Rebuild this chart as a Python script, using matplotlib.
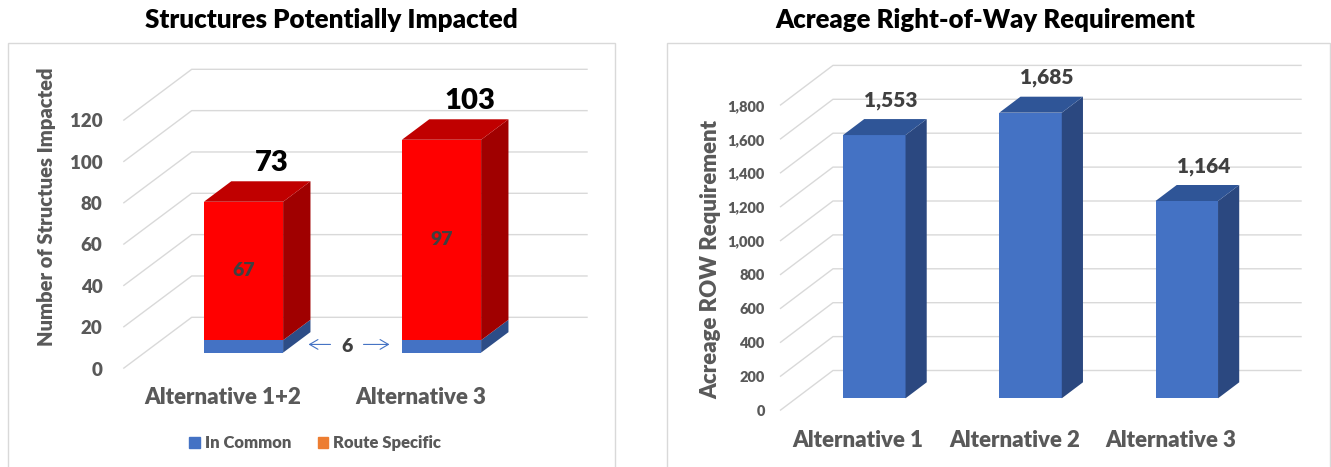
import matplotlib
matplotlib.use('Agg')
import matplotlib.pyplot as plt
from matplotlib.patches import Polygon, Rectangle, Patch
from matplotlib.text import OffsetFrom

WT = 'heavy'
plt.rcParams['font.family'] = ['Lato', 'DejaVu Sans']
plt.rcParams['font.weight'] = WT

W, H = 1331, 467
GRID = '#D9D9D9'
GRAY = '#595959'
DARK = '#404040'

# left chart data
struct_cats = ['Alternative 1+2', 'Alternative 3']
in_common = [6, 6]
route_specific = [67, 97]
struct_ticks = [0, 20, 40, 60, 80, 100, 120]

# right chart data
row_cats = ['Alternative 1', 'Alternative 2', 'Alternative 3']
row_acres = [1553, 1685, 1164]
row_ticks = [0, 200, 400, 600, 800, 1000, 1200, 1400, 1600, 1800]


def add_ax(fig, left, right, top, bottom):
    # positions given in pixels of the final image
    return fig.add_axes([left / W, 1 - bottom / H, (right - left) / W, (bottom - top) / H])


def floor_grid(ax, ticks, x0, x1, dx, dy):
    for v in ticks:
        ax.plot([x0, x0 + dx, x1 + dx], [v, v + dy, v + dy], color=GRID, lw=1,
                zorder=1, clip_on=False, solid_capstyle='butt')


def bar3d(ax, xs, bottoms, heights, width, d0, depth, dx, dy, front, top, side, draw_top=True):
    fx = [x + d0 * dx for x in xs]
    fb = [b + d0 * dy for b in bottoms]
    ax.bar(fx, heights, width, bottom=fb, color=front, zorder=3, lw=0)
    for x, b, h in zip(fx, fb, heights):
        r = x + width / 2
        t = b + h
        ax.add_patch(Polygon([(r, b), (r + depth * dx, b + depth * dy),
                              (r + depth * dx, t + depth * dy), (r, t)],
                             closed=True, fc=side, lw=0, zorder=3))
        if draw_top:
            ax.add_patch(Polygon([(x - width / 2, t), (r, t), (r + depth * dx, t + depth * dy),
                                  (x - width / 2 + depth * dx, t + depth * dy)],
                                 closed=True, fc=top, lw=0, zorder=3))


def style_axes(ax, xs, cats, ticks, xlim, ylim, cat_size, tick_size, tick_pad, cat_pad):
    ax.set_xlim(*xlim)
    ax.set_ylim(*ylim)
    for s in ax.spines.values():
        s.set_visible(False)
    ax.set_xticks(xs)
    ax.set_xticklabels(cats, fontsize=cat_size, color=GRAY, fontweight=WT)
    ax.set_yticks(ticks)
    ax.set_yticklabels([f'{t:,}' for t in ticks], fontsize=tick_size, color=GRAY, fontweight=WT)
    ax.tick_params(axis='both', length=0)
    ax.tick_params(axis='y', pad=tick_pad)
    ax.tick_params(axis='x', pad=cat_pad)
    ax.patch.set_alpha(0)


fig = plt.figure(figsize=(W / 100, H / 100), dpi=100)

# panel frames
fig.add_artist(Rectangle((8.3 / W, -0.02), (615 - 8.3) / W, (467 - 43) / H + 0.02,
                         transform=fig.transFigure, fill=False, ec=GRID, lw=1))
fig.add_artist(Rectangle((666.7 / W, -0.02), (1329.5 - 666.7) / W, (467 - 43) / H + 0.02,
                         transform=fig.transFigure, fill=False, ec=GRID, lw=1))

# ---------------- left: structures ----------------
axl = add_ax(fig, 123.3, 586, 68.8, 368.5)
xs = list(range(len(struct_cats)))
dxl, dyl = 0.3455, 24.77
d0l, depl, bw = 0.31, 0.4, 0.4
floor_grid(axl, struct_ticks, -0.5, 1.5, dxl, dyl)
bar3d(axl, xs, [0] * 2, in_common, bw, d0l, depl, dxl, dyl,
      '#4472C4', '#30559A', '#2D4D87', draw_top=False)
bar3d(axl, xs, in_common, route_specific, bw, d0l, depl, dxl, dyl,
      '#FF0000', '#C00000', '#A00000')
style_axes(axl, xs, struct_cats, struct_ticks, (-0.5, -0.5 + (586 - 123.3) / 198),
           (0, (368.5 - 68.8) / 2.0667), 16, 13.5, 15, 13)

for x, c, r in zip(xs, in_common, route_specific):
    tot = c + r
    axl.annotate(str(tot), xy=(x + (d0l + depl / 2) * dxl, tot + (d0l + depl / 2) * dyl),
                 xytext=(15, 29), textcoords='offset pixels', ha='center', va='center',
                 fontsize=21, fontweight=WT, color='black')
    axl.annotate(str(r), xy=(x + d0l * dxl, c + r / 2 + d0l * dyl), ha='center', va='center',
                 fontsize=14, fontweight=WT, color=DARK, zorder=5)

t6 = axl.annotate(str(in_common[0]), xy=(0.5 + d0l * dxl, in_common[0] / 2 + d0l * dyl),
                  xytext=(5, 0), textcoords='offset pixels', ha='center', va='center',
                  fontsize=14, fontweight=WT, color=DARK)
for tail, head in [(-17, -39), (16, 42)]:
    axl.annotate('', xy=(head, 2), xycoords=OffsetFrom(t6, (0.5, 0.5), 'pixels'),
                 xytext=(tail, 2), textcoords=OffsetFrom(t6, (0.5, 0.5), 'pixels'),
                 arrowprops=dict(arrowstyle='->,head_length=0.6,head_width=0.35',
                                 color='#4472C4', lw=0.8, shrinkA=0, shrinkB=0))

fig.text(47 / W, 1 - 207 / H, 'Number of Structues Impacted', rotation=90,
         ha='center', va='center', fontsize=14.5, fontweight=WT, color=GRAY)
fig.text(331 / W, 1 - 20 / H, 'Structures Potentially Impacted', ha='center', va='center',
         fontsize=18.7, fontweight=WT, color='black')
fig.legend(handles=[Patch(color='#4472C4', label='In Common'),
                    Patch(color='#ED7D31', label='Route Specific')],
           loc='center', bbox_to_anchor=(315 / W, 1 - 443 / H), ncol=2, frameon=False,
           prop={'size': 12, 'weight': WT}, labelcolor=GRAY,
           handlelength=0.65, handleheight=0.65, handletextpad=0.3, columnspacing=1.6)

# ---------------- right: acreage ----------------
axr = add_ax(fig, 780, 1301.7, 65, 410.5)
xr = list(range(len(row_cats)))
dxr, dyr = 0.339, 236
d0r = 0.305
floor_grid(axr, row_ticks, -0.5, 2.5, dxr, dyr)
bar3d(axr, xr, [0] * 3, row_acres, bw, d0r, depl, dxr, dyr,
      '#4472C4', '#2F5597', '#2B4880')
style_axes(axr, xr, row_cats, row_ticks, (-0.5, -0.5 + (1301.7 - 780) / 156.25),
           (0, (410.5 - 65) / 0.1695), 16, 10.5, 11, 14)
for x, v in zip(xr, row_acres):
    axr.annotate(f'{v:,}', xy=(x + (d0r + depl / 2) * dxr, v + (d0r + depl / 2) * dyr),
                 xytext=(6, 27), textcoords='offset pixels', ha='center', va='center',
                 fontsize=15, fontweight=WT, color=DARK)

fig.text(711 / W, 1 - 259 / H, 'Acreage ROW Requirement', rotation=90,
         ha='center', va='center', fontsize=16, fontweight=WT, color=GRAY)
fig.text(985 / W, 1 - 20 / H, 'Acreage Right-of-Way Requirement', ha='center', va='center',
         fontsize=18.5, fontweight=WT, color='black')

fig.savefig('out.png', dpi=100)
